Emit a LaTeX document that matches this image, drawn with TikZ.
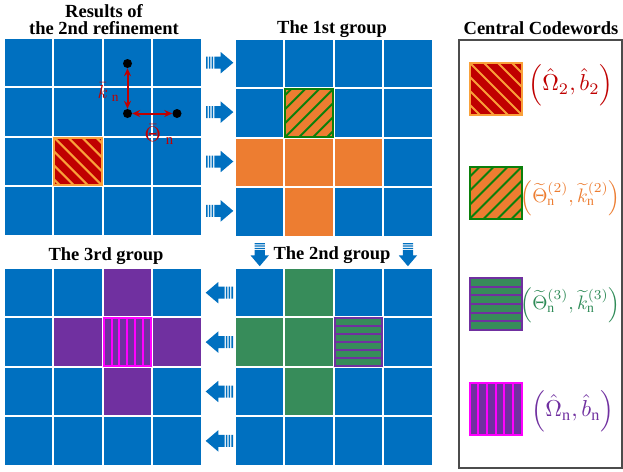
\documentclass[tikz,border=0pt]{standalone}
\usepackage{graphicx}
\usepackage{fontspec}
\setmainfont{Liberation Serif}
\usetikzlibrary{arrows.meta}
\definecolor{cblue}{HTML}{0070C0}
\definecolor{corange}{HTML}{ED7D31}
\definecolor{cdred}{HTML}{C00000}
\definecolor{clorange}{HTML}{F9A13A}
\definecolor{cgreen}{HTML}{378C5A}
\definecolor{cgline}{HTML}{0B800B}
\definecolor{cpurple}{HTML}{7030A0}
\definecolor{cmag}{HTML}{FF00FF}
\definecolor{tred}{HTML}{C00000}
\definecolor{tgreen}{HTML}{2E8B57}
\newcommand\setcol[2]{\expandafter\gdef\csname col#1\endcsname{#2}}
\newcommand\hatchNW[2]{%
  \begin{scope}
    \clip (#1.north west) rectangle (#1.south east);
    \foreach \s in {-70,-56,...,70} \draw[#2,line width=2pt] ([xshift=\s pt]#1.north west) -- ++(70,70);
  \end{scope}
  \draw[#2,line width=2pt] (#1.north west) rectangle (#1.south east)}
\newcommand\hatchNE[2]{%
  \begin{scope}
    \clip (#1.north west) rectangle (#1.south east);
    \foreach \s in {-70,-56,...,70} \draw[#2,line width=2pt] ([xshift=\s pt]#1.south west) -- ++(70,-70);
  \end{scope}
  \draw[#2,line width=2pt] (#1.north west) rectangle (#1.south east)}
\newcommand\hatchH[3]{%
  \foreach \k in {1,...,5} \draw[#2,line width=2pt] ([shift={(0,\k*#3/6)}]#1.north west) -- ++(#3,0);
  \draw[#2,line width=2pt] (#1.north west) rectangle (#1.south east)}
\newcommand\hatchV[3]{%
  \foreach \k in {1,...,5} \draw[#2,line width=2pt] ([shift={(\k*#3/6,0)}]#1.north west) -- ++(0,#3);
  \draw[#2,line width=2pt] (#1.north west) rectangle (#1.south east)}
\tikzset{
  cell/.style={rectangle, inner sep=0pt, minimum size=47.4pt, draw=none},
  lsq/.style={rectangle, inner sep=0pt, minimum size=51.5pt, draw=none},
  ttl/.style={font=\fontsize{18.5}{16.3}\selectfont\bfseries, align=center},
  dot/.style={circle, fill=black, inner sep=0pt, minimum size=9pt},
  dbl/.style={{Stealth[length=8pt,width=7pt]}-{Stealth[length=8pt,width=7pt]}, line width=2pt, draw=cdred},
  mlab/.style={font=\normalsize, text=tred, inner sep=0pt},
  leg/.style={font=\normalsize, inner sep=0pt},
  barrow/.pic={
    \fill[cblue] (0,-6) rectangle (1.6,6) (2.8,-6) rectangle (4.4,6) (5.6,-6) rectangle (7.2,6)
      (8.4,-6) rectangle (14.8,6) (14.7,-10.7) -- (27.3,0) -- (14.7,10.7) -- cycle;
  }
}
\begin{document}
\begin{tikzpicture}[x=1pt,y=-1pt]
\useasboundingbox (0,0) rectangle (623,471);
\fill[white] (0,0) rectangle (623,471);
% cell colours
\setcol{A32}{cdred}
\foreach \n in {B22,B31,B32,B33,B42} {\setcol{\n}{corange}}
\foreach \n in {C13,C22,C23,C24,C33} {\setcol{\n}{cpurple}}
\foreach \n in {D12,D21,D22,D23,D32} {\setcol{\n}{cgreen}}
% grids
\foreach \g/\gx/\gy in {A/5/39,B/236/40,C/5/269,D/236/269}
  \foreach \r in {1,...,4}
    \foreach \c in {1,...,4} {
      \ifcsname col\g\r\c\endcsname\edef\cc{\csname col\g\r\c\endcsname}\else\def\cc{cblue}\fi
      \node[cell, fill=\cc] (\g\r\c) at ({\gx+(\c-1)*49.4+23.7},{\gy+(\r-1)*49.4+23.7}) {};
    }
\hatchNW{A32}{clorange};
\hatchNE{B22}{cgline};
\hatchH{D23}{cpurple}{47.4};
\hatchV{C23}{cmag}{47.4};
% titles
\node[ttl] (t1) at (104,19.6) {Results of\\the 2nd refinement};
\node[ttl, anchor=base] (t2) at (332,33.3) {The 1st group};
\node[ttl, anchor=base] (t3) at (106,260) {The 3rd group};
\node[ttl, anchor=base] (t4) at (332,259) {The 2nd group};
\node[ttl, anchor=base] (t5) at (541,34.3) {Central Codewords};
% dots and red arrows
\node[dot] (d1) at (127.5,63.5) {};
\node[dot] (d2) at (127.5,113.5) {};
\node[dot] (d3) at (177,113.5) {};
\draw[dbl] (d1) -- (d2);
\draw[dbl] (d2) -- (d3);
\node[mlab] (kl) at (108.5,92) {\scalebox{1.9}{$\bar{k}_{\;\mathrm{n}}$}};
\node[mlab] (tl) at (159.5,134.5) {\scalebox{2.1}{$\bar{\Theta}_{\;\mathrm{n}}$}};
% block arrows
\foreach \yy in {62.7,112.1,161.5,210.9} \pic at (206,\yy) {barrow};
\foreach \yy in {292.7,342.1,391.5,440.9} \pic[rotate=180] at (233,\yy) {barrow};
\pic[rotate=-90,scale=0.85] at (259.7,243) {barrow};
\pic[rotate=-90,scale=0.85] at (407.9,243) {barrow};
% legend
\draw[draw=black!70, line width=2pt] (458.5,39.5) rectangle (621.5,468);
\node[lsq, fill=cdred] (L1) at (495.75,88.75) {};
\hatchNW{L1}{clorange};
\node[lsq, fill=corange] (L2) at (495.75,192.75) {};
\hatchNE{L2}{cgline};
\node[lsq, fill=cgreen] (L3) at (495.75,304.25) {};
\hatchH{L3}{cpurple}{51.5};
\node[lsq, fill=cpurple] (L4) at (495.75,409.25) {};
\hatchV{L4}{cmag}{51.5};
\node[leg, text=tred] (e1) at (571,85) {\scalebox{2.3}{$\left(\hat{\Omega}_2,\hat{b}_2\right)$}};
\node[leg, text=corange] (e2) at (570.5,198) {\scalebox{1.95}{$\left(\widetilde{\Theta}_{\mathrm{n}}^{(2)},\widetilde{k}_{\mathrm{n}}^{(2)}\right)$}};
\node[leg, text=tgreen] (e3) at (570.5,305) {\scalebox{1.95}{$\left(\widetilde{\Theta}_{\mathrm{n}}^{(3)},\widetilde{k}_{\mathrm{n}}^{(3)}\right)$}};
\node[leg, text=cpurple] (e4) at (573,411) {\scalebox{2.3}{$\left(\hat{\Omega}_{\mathrm{n}},\hat{b}_{\mathrm{n}}\right)$}};
\end{tikzpicture}
\end{document}
